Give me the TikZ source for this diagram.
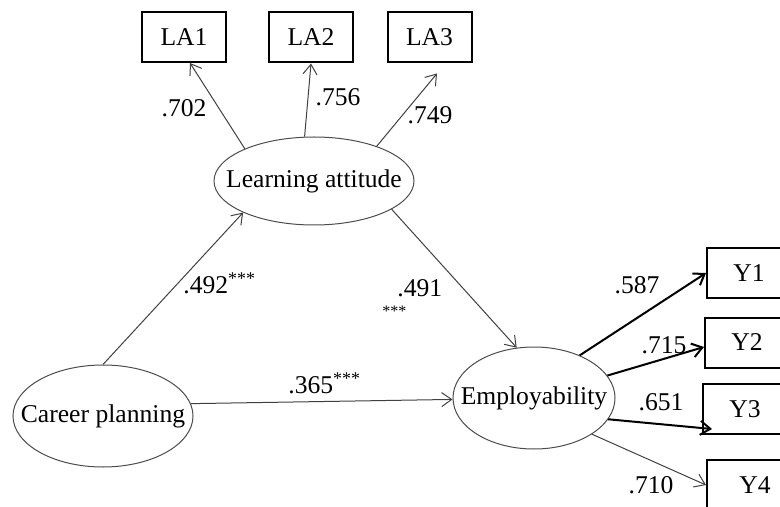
\documentclass[tikz,border=0pt]{standalone}
\usepackage{fontspec}
\setmainfont{Liberation Serif}
\usetikzlibrary{shapes, arrows.meta, positioning, calc}

\begin{document}
\begin{tikzpicture}[x=0.5pt, y=-0.5pt,
    font=\fontsize{12.8}{15}\selectfont,
    latent/.style={draw=black!70, line width=0.5pt, ellipse, inner sep=0pt},
    indicator/.style={draw, line width=1pt, rectangle, minimum width=42pt, minimum height=25pt, inner sep=0pt},
    regpath/.style={draw=black!75, line width=0.5pt, -{Straight Barb[length=5pt, width=7pt]}},
    loading/.style={regpath, draw=black, line width=1pt},
    coef/.style={inner sep=0pt}]
    \path[use as bounding box, clip] (0,0) rectangle (780,507);

    % Latent variables
    \node[latent, minimum width=100pt, minimum height=44pt, label=center:{Learning attitude}] (LA) at (314,181) {};
    \node[latent, minimum width=90pt, minimum height=51pt, label=center:{Career planning}] (CP) at (103,416) {};
    \node[latent, minimum width=81pt, minimum height=51pt, label=center:{Employability}] (EM) at (534,398) {};

    % Indicators of learning attitude
    \node[indicator] (LA1) at (184,37) {LA1};
    \node[indicator] (LA2) at (311,37.5) {LA2};
    \node[indicator] (LA3) at (429.5,37.5) {LA3\hspace{11pt}};

    % Indicators of employability
    \node[indicator] (Y1) at (749,273) {Y1};
    \node[indicator] (Y2) at (747,342.5) {Y2};
    \node[indicator] (Y3) at (745,409) {Y3};
    \node[indicator] (Y4) at (749,485) {\hspace{6pt}Y4};

    % Measurement paths
    \draw[regpath] (LA.155) -- ([xshift=3pt]LA1.south);
    \draw[regpath] (LA.102) -- (LA2.south);
    \draw[regpath] (LA.29) -- ([xshift=3.75pt, yshift=-5pt]LA3.south);
    \draw[loading] (EM.43) -- (Y1.west);
    \draw[loading] (EM.17) -- ([yshift=-2.25pt]Y2.west);
    \draw[loading] (EM.-16) -- ([xshift=5pt, yshift=-10pt]Y3.west);
    \draw[regpath] (EM.-32) -- (Y4.west);

    % Structural paths
    \draw[regpath] (CP.north) -- (LA.204);
    \draw[regpath] (LA.-20) -- (EM.109);
    \draw[regpath] (CP.8) -- (EM.181);

    % Coefficients
    \node[coef] (c702) at (184,108) {.702};
    \node[coef] (c756) at (338,97) {.756};
    \node[coef] (c749) at (430,115) {.749};
    \node[coef, anchor=base west] (c492) at (183,293) {.492\textsuperscript{***}};
    \node[coef, anchor=base west] (c365) at (288,393) {.365\textsuperscript{***}};
    \node[coef, anchor=base west] (c491) at (397,296) {.491};
    \node[coef, anchor=base west, font=\fontsize{8}{9}\selectfont] (s491) at (382,316) {***};
    \node[coef] (c587) at (637,285) {.587};
    \node[coef] (c715) at (664,345) {.715};
    \node[coef] (c651) at (661,402) {.651};
    \node[coef] (c710) at (651,485) {.710};
\end{tikzpicture}
\end{document}
